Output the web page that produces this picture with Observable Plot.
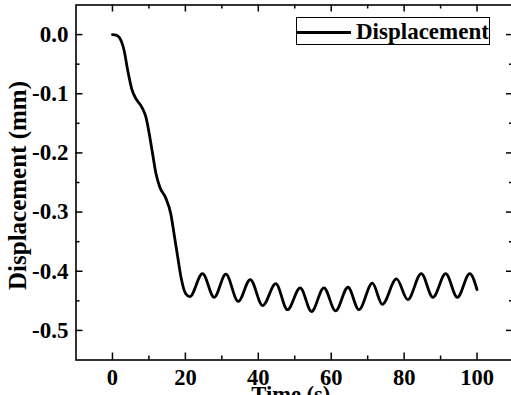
<!DOCTYPE html>
<html><head><meta charset="utf-8">
<script src="https://cdn.jsdelivr.net/npm/d3@7"></script>
<script src="https://cdn.jsdelivr.net/npm/@observablehq/plot@0.6"></script>
<style>
html,body{margin:0;padding:0;background:#fff;overflow:hidden;}
#wrap{position:relative;width:511px;height:395px;overflow:hidden;font-family:'Liberation Serif','Times New Roman',serif;}
#legend{position:absolute;left:296px;top:17px;width:192px;height:26px;border:1px solid #000;background:#fff;}
#legend .sw{position:absolute;left:0;top:12.5px;width:54px;height:3px;background:#000;}
#legend .lt{position:absolute;left:59px;top:3px;font-size:23px;line-height:22px;font-weight:bold;white-space:nowrap;color:#000;}
</style></head>
<body><div id="wrap"></div>
<script>
const time = [0, 1.0, 1.9, 3.2, 4.2, 5.3, 6.4, 8.0, 9.2, 10.1, 11.0, 11.9, 13.0, 14.6, 16.0, 16.9, 17.9, 18.8, 20.1, 21.2,
  24.7, 27.9, 31.1, 34.5, 37.8, 41.2, 44.8, 48.0, 51.5, 54.6, 58.0, 61.2, 64.6, 67.6, 71.3, 74.0, 77.9, 81.0,
  84.7, 87.9, 91.4, 94.6, 98.0, 100];
const displacement = [0, -0.001, -0.005, -0.027, -0.061, -0.092, -0.108, -0.122, -0.140, -0.168, -0.201, -0.234, -0.258, -0.276, -0.303, -0.337, -0.376, -0.410, -0.438, -0.443,
  -0.404, -0.444, -0.405, -0.451, -0.414, -0.458, -0.421, -0.465, -0.428, -0.468, -0.428, -0.467, -0.427, -0.465, -0.420, -0.456, -0.413, -0.448,
  -0.404, -0.444, -0.404, -0.444, -0.404, -0.431];
const xMajor = [0, 20, 40, 60, 80, 100];
const xMinor = [10, 30, 50, 70, 90];
const yMajor = [0, -0.1, -0.2, -0.3, -0.4, -0.5];
const yMinor = [-0.05, -0.15, -0.25, -0.35, -0.45];
const xLabel = "Time (s)";
const yLabel = "Displacement (mm)";
const seriesName = "Displacement";

const data = time.map((t, i) => ({t, v: displacement[i]}));
const W = 513, H = 395, mL = 75.5, mR = 0, mT = 4.5, mB = 35.5;
const fw = W - mL - mR, fh = H - mT - mB;
const font = "'Liberation Serif','Times New Roman',serif";

const plot = Plot.plot({
  width: W, height: H,
  marginLeft: mL, marginRight: mR, marginTop: mT, marginBottom: mB,
  style: {fontFamily: font, fontSize: "22px", fontWeight: "bold", background: "white", maxWidth: "none", color: "black"},
  x: {domain: [-10, 110]},
  y: {domain: [-0.55, 0.05]},
  marks: [
    Plot.axisX(xMajor, {tickSize: 0, tickPadding: 9, tickFormat: d => String(d), label: null, fontSize: 22.5, fontWeight: "bold"}),
    Plot.axisY(yMajor, {tickSize: 0, tickPadding: 7.5, tickFormat: d => d.toFixed(1), label: null, fontSize: 23, fontWeight: "bold"}),
    Plot.ruleX(xMajor, {insetTop: fh - 7, stroke: "black", strokeWidth: 1.5}),
    Plot.ruleX(xMajor, {insetBottom: fh - 7, stroke: "black", strokeWidth: 1.5}),
    Plot.ruleX(xMinor, {insetTop: fh - 4, stroke: "black", strokeWidth: 1.5}),
    Plot.ruleX(xMinor, {insetBottom: fh - 4, stroke: "black", strokeWidth: 1.5}),
    Plot.ruleY(yMajor, {insetRight: fw - 7, stroke: "black", strokeWidth: 1.5}),
    Plot.ruleY(yMajor, {insetLeft: fw - 7, stroke: "black", strokeWidth: 1.5}),
    Plot.ruleY(yMinor, {insetRight: fw - 4, stroke: "black", strokeWidth: 1.5}),
    Plot.ruleY(yMinor, {insetLeft: fw - 4, stroke: "black", strokeWidth: 1.5}),
    Plot.frame({stroke: "black", strokeWidth: 1.6}),
    Plot.line(data, {x: "t", y: "v", stroke: "black", strokeWidth: 2.8, curve: "monotone-x"}),
    Plot.text([xLabel], {frameAnchor: "bottom", textAnchor: "middle", dx: -4, dy: 26, lineAnchor: "top", fontSize: 22.5, fontWeight: "bold", fill: "black"}),
    Plot.text([yLabel], {frameAnchor: "left", textAnchor: "middle", rotate: -90, dx: -58.5, dy: 3, fontSize: 25, fontWeight: "bold", fill: "black"})
  ]
});
const wrap = document.getElementById("wrap");
wrap.appendChild(plot);
const legend = document.createElement("div");
legend.id = "legend";
legend.innerHTML = '<div class="sw"></div><div class="lt"></div>';
legend.querySelector(".lt").textContent = seriesName;
wrap.appendChild(legend);
</script>
</body></html>
